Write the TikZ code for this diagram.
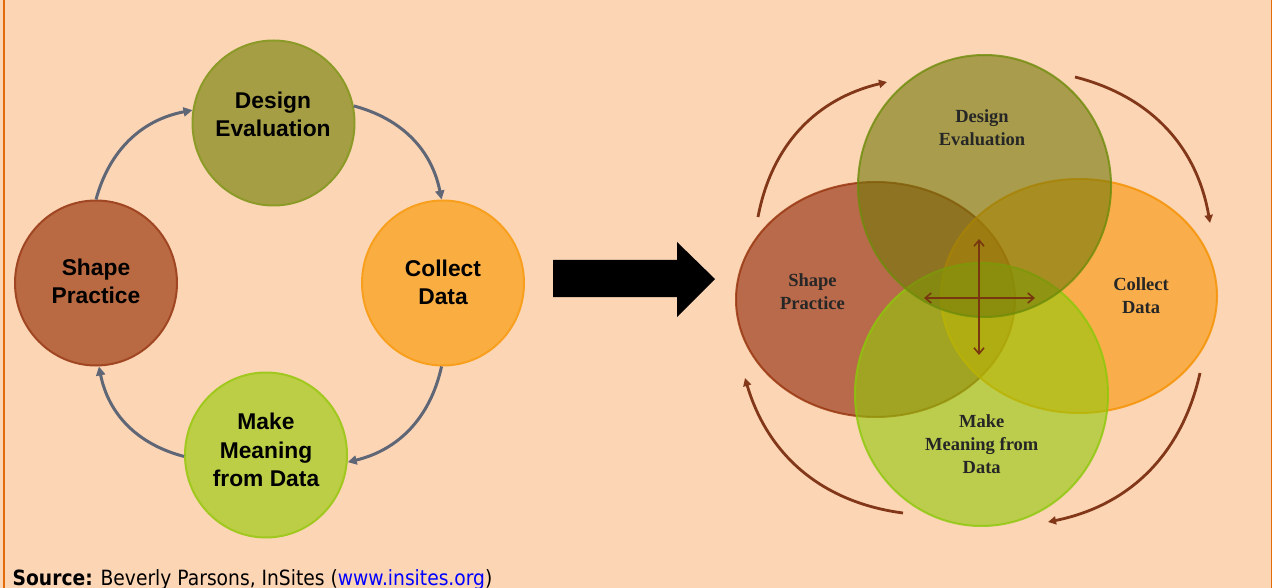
\documentclass[tikz,border=0pt]{standalone}
\usepackage{fontspec}
\setmainfont{Liberation Sans}
\newfontfamily\tms{Liberation Serif}
\newfontfamily\srcfont[FakeStretch=0.89]{DejaVu Sans}
\usetikzlibrary{shapes.geometric,arrows.meta}
\definecolor{bg}{RGB}{252,213,181}
\definecolor{frameor}{RGB}{227,108,10}
\definecolor{deF}{RGB}{166,158,68}
\definecolor{deD}{RGB}{140,155,40}
\definecolor{spF}{RGB}{185,106,66}
\definecolor{spD}{RGB}{160,70,35}
\definecolor{cdF}{RGB}{250,174,66}
\definecolor{cdD}{RGB}{248,160,30}
\definecolor{mmF}{RGB}{188,206,70}
\definecolor{mmD}{RGB}{160,200,30}
\definecolor{garr}{RGB}{95,102,117}
\definecolor{rdeF}{RGB}{115,121,8}
\definecolor{rdeD}{RGB}{110,140,10}
\definecolor{rspF}{RGB}{139,35,5}
\definecolor{rspD}{RGB}{150,50,10}
\definecolor{rcdF}{RGB}{247,148,5}
\definecolor{rcdD}{RGB}{245,145,0}
\definecolor{rmmF}{RGB}{146,201,8}
\definecolor{rmmD}{RGB}{140,200,10}
\definecolor{brarr}{RGB}{130,55,25}
\definecolor{crossc}{RGB}{120,55,15}
\definecolor{linkblue}{RGB}{0,0,255}
\begin{document}
\begin{tikzpicture}[x=1pt,y=1pt,
  lc/.style={ellipse, minimum width=162pt, minimum height=165pt, inner sep=0pt, line width=2pt},
  lt/.style={align=center, inner sep=0pt, font=\bfseries\fontsize{22.8}{28.5}\selectfont},
  garrow/.style={draw=garr, line width=3pt, -{Triangle[length=9pt,width=9pt]}},
  rel/.style={ellipse, inner sep=0pt, line width=2pt, fill opacity=0.6, draw opacity=0.8},
  rt/.style={align=center, inner sep=0pt, text=black!85, font=\tms\bfseries\fontsize{18.5}{23}\selectfont},
  barrow/.style={draw=brarr, line width=2.8pt, -{Triangle[length=8pt,width=8pt]}},
  crossarr/.style={draw=crossc, line width=1.6pt, {Straight Barb[length=6pt,width=10pt]}-{Straight Barb[length=6pt,width=10pt]}}
]
\fill[bg] (0,0) rectangle (1272,-588);
\useasboundingbox (0,0) rectangle (1272,-588);
\draw[frameor, line width=2pt] (4,0) -- (4,-588);
\draw[frameor, line width=2pt] (1271.5,0) -- (1271.5,-588);

% left cycle
\node[lc, fill=deF, draw=deD] (de) at (273.5,-123) {};
\node[lc, fill=spF, draw=spD] (sp) at (96,-283) {};
\node[lc, fill=cdF, draw=cdD] (cd) at (443,-283) {};
\node[lc, fill=mmF, draw=mmD] (mm) at (266,-455) {};
\node[lt] (deT) at (273,-114.5) {Design\\Evaluation};
\node[lt] (spT) at (96,-281.5) {Shape\\Practice};
\node[lt] (cdT) at (443,-282.5) {Collect\\Data};
\node[lt] (mmT) at (266,-450) {Make\\Meaning\\from Data};
\draw[garrow] (sp.90) to[bend left=32] (de.171);
\draw[garrow] (de.12) to[bend left=32] (cd.91);
\draw[garrow] (cd.269) to[bend left=32] (mm.355);
\draw[garrow] (mm.181) to[bend left=32] (sp.272);

% big arrow
\fill[black] (553,-260) -- (677,-260) -- (677,-242) -- (715,-279) -- (677,-317) -- (677,-297) -- (553,-297) -- cycle;

% right overlapping diagram
\node[rel, fill=rspF, draw=rspD, minimum width=279pt, minimum height=235pt] (rsp) at (875.5,-299.5) {};
\node[rel, fill=rcdF, draw=rcdD, minimum width=276pt, minimum height=234pt] (rcd) at (1079,-296) {};
\node[rel, fill=rmmF, draw=rmmD, minimum width=253pt, minimum height=263pt] (rmm) at (981.5,-394.5) {};
\node[rel, fill=rdeF, draw=rdeD, minimum width=253pt, minimum height=262pt] (rde) at (984.5,-186) {};
\node[rt] (rdeT) at (982,-128) {Design\\Evaluation};
\node[rt] (rspT) at (812.5,-292) {Shape\\Practice};
\node[rt] (rcdT) at (1141,-296) {Collect\\Data};
\node[rt] (rmmT) at (981.7,-444) {Make\\Meaning from\\Data};

\coordinate (vt) at (979,-239);
\coordinate (vb) at (979,-355);
\coordinate (hl) at (924,-298);
\coordinate (hr) at (1035,-298);
\draw[crossarr] (vt) -- (vb);
\draw[crossarr] (hl) -- (hr);

\coordinate (a1s) at (758,-217);
\coordinate (a1e) at (887,-82);
\coordinate (a2s) at (1075,-77);
\coordinate (a2e) at (1210,-223);
\coordinate (a3s) at (1200,-373);
\coordinate (a3e) at (1048,-522);
\coordinate (a4s) at (903,-513);
\coordinate (a4e) at (745,-378);
\draw[barrow] (a1s) to[bend left=33] (a1e);
\draw[barrow] (a2s) to[bend left=33] (a2e);
\draw[barrow] (a3s) to[bend left=33] (a3e);
\draw[barrow] (a4s) to[bend left=33] (a4e);

% source
\node[anchor=base west, inner sep=0pt, font=\srcfont\fontsize{21}{25}\selectfont] (src) at (12.5,-585) {\textbf{Source:} Beverly Parsons, InSites (\textcolor{linkblue}{www.insites.org})};
\end{tikzpicture}
\end{document}
